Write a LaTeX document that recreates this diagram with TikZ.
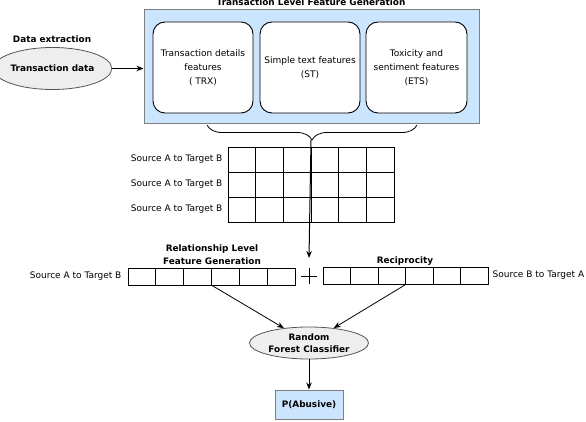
\documentclass[tikz,border=0pt]{standalone}
\usepackage{fontspec}
\setmainfont{DejaVu Sans}
\usetikzlibrary{arrows.meta,decorations.pathreplacing,shapes.geometric}
\definecolor{lblue}{HTML}{CCE5FF}
\definecolor{bgray}{HTML}{7F7F7F}
\definecolor{egray}{HTML}{EEEEEE}
\definecolor{edraw}{HTML}{555555}
\begin{document}
\begin{tikzpicture}[x=1pt,y=-1pt,
  txt/.style={font=\fontsize{9}{14}\selectfont, align=center, inner sep=0pt},
  btxt/.style={font=\bfseries\fontsize{8.9}{12.5}\selectfont, align=center, inner sep=0pt},
  feat/.style={draw, line width=0.9pt, rounded corners=12pt, fill=white, minimum width=100pt, minimum height=91pt, txt},
  cell/.style={draw, line width=0.8pt, inner sep=0pt},
  oval/.style={ellipse, draw=edraw, line width=0.8pt, fill=egray, inner sep=0pt, btxt},
  arr/.style={-{Stealth[length=7pt,width=5.5pt]}, line width=0.8pt}
]
\useasboundingbox (0,0) rectangle (586,422);

% top group
\node[draw=bgray, line width=1pt, fill=lblue, minimum width=335pt, minimum height=114pt] (tlf) at (311.5,67) {};
\node[btxt] (tlft) at (311,2.5) {Transaction Level Feature Generation};
\node[feat] (trx) at (203,67.5) {Transaction details\\features\\( TRX)};
\node[feat] (st) at (310,67.5) {Simple text features\\(ST)};
\node[feat, minimum width=101pt] (ets) at (416.5,67.5) {Toxicity and\\sentiment features\\(ETS)};

% data extraction
\node[oval, minimum width=100pt, minimum height=42pt] (td) at (52.5,68.5) {Transaction data};
\node[btxt] (de) at (52,39) {Data extraction};
\draw[arr] (td) -- (tlf.west |- td);

% brace
\draw[line width=0.8pt, decorate, decoration={brace, amplitude=15pt}] (417,125) -- (207,125);
\coordinate (bt) at (311,140);

% plus and arrow from brace
\node[minimum size=15pt, inner sep=0pt] (plus) at (309,276) {};
\draw[line width=0.6pt] (plus.north) -- (plus.south) (plus.west) -- (plus.east);
\coordinate (pt) at (309,258);
\draw[arr, line width=1pt] (bt) -- (pt);

% grid
\foreach \r in {1,2,3} {
  \foreach \c in {1,...,6} {
    \node[cell, minimum width=27.67pt, minimum height=25pt] (g\r\c) at ({228+27.67*(\c-0.5)},{147+25*(\r-0.5)}) {};
  }
  \node[txt, anchor=east] (gl\r) at ([xshift=-5pt]g\r1.west) {Source A to Target B};
}

% left row
\foreach \c in {1,...,6}
  \node[cell, minimum width=27.83pt, minimum height=17pt] (l\c) at ({128+27.83*(\c-0.5)},276.5) {};
\node[txt, anchor=east] (ll) at ([xshift=-6pt]l1.west) {Source A to Target B};
\node[btxt] (rlf) at (212,254.5) {Relationship Level\\Feature Generation};

% right row
\foreach \c in {1,...,6}
  \node[cell, minimum width=27.5pt, minimum height=17pt] (r\c) at ({323+27.5*(\c-0.5)},275.5) {};
\node[txt, anchor=west] (rl) at ([xshift=4pt]r6.east) {Source B to Target A};
\node[btxt] (rec) at (405,261.5) {Reciprocity};

% classifier
\node[oval, minimum width=119pt, minimum height=32pt, align=center] (rf) at (309,343) {Random\\Forest Classifier};
\draw[arr] (l3.south east) -- (rf);
\draw[arr] (r3.south east) -- (rf);

% output
\node[draw=bgray, line width=1pt, fill=lblue, minimum width=68pt, minimum height=29pt, btxt] (p) at (309,404.5) {P(Abusive)};
\draw[arr] (rf) -- (p);
\end{tikzpicture}
\end{document}
